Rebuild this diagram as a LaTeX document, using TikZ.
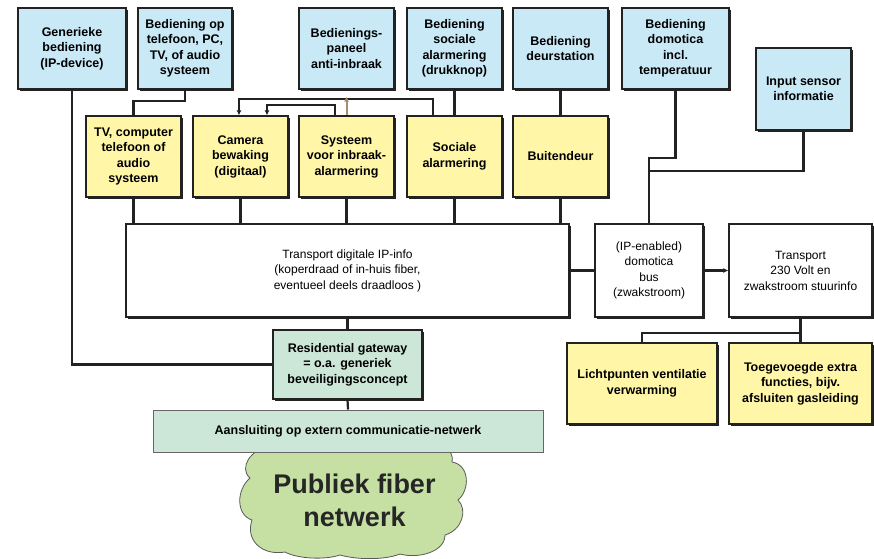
\documentclass[tikz,border=0pt]{standalone}
\usepackage{fontspec}
\setmainfont{Liberation Sans}
\usetikzlibrary{positioning, arrows.meta, shadows}

\definecolor{ctrlblue}{HTML}{C9E9F7}
\definecolor{devyellow}{HTML}{FFF6A8}
\definecolor{gwgreen}{HTML}{CCE7D7}
\definecolor{cloudgreen}{HTML}{C6E0A4}
\definecolor{wire}{HTML}{222222}
\definecolor{tanwire}{HTML}{A88E6C}

\begin{document}
\begin{tikzpicture}[
    x=1pt, y=-1pt,
    font=\fontsize{12.5}{15.5}\selectfont\bfseries,
    box/.style={rectangle, draw=wire, line width=1.3pt, fill=#1, align=center,
        inner sep=3pt,
        drop shadow={shadow xshift=1.6pt, shadow yshift=-1.6pt, fill=wire, opacity=1}},
    plain/.style={rectangle, draw=wire, line width=1.3pt, fill=white, align=center,
        inner sep=3pt, font=\fontsize{12}{15.5}\selectfont\mdseries,
        drop shadow={shadow xshift=1.6pt, shadow yshift=-1.6pt, fill=wire, opacity=1}},
    unit/.style={minimum width=95, minimum height=81},
    link/.style={draw=wire, line width=2.2pt},
    tip/.style={-{Latex[length=5pt, width=5pt]}},
]
\useasboundingbox (0,0) rectangle (874,558);

% ---- Control units (top row) ----
\node[box=ctrlblue, minimum width=108, minimum height=81] (gen) at (72,48.5)
    {Generieke\\bediening\\(IP-device)};
\node[box=ctrlblue, minimum width=94, minimum height=81] (tel) at (185,48.5)
    {Bediening op\\telefoon, PC,\\TV, of audio\\systeem};
\node[box=ctrlblue, unit] (pan) at (346.5,48.5) {Bedienings-\\paneel\\anti-inbraak};
\node[box=ctrlblue, unit] (soc) at (454.5,48.5) {Bediening\\sociale\\alarmering\\(drukknop)};
\node[box=ctrlblue, unit] (deur) at (560.5,48.5) {Bediening\\deurstation};
\node[box=ctrlblue, minimum width=107, minimum height=81] (dom) at (675.5,48.5)
    {Bediening\\domotica\\incl.\\temperatuur};
\node[box=ctrlblue, minimum width=95, minimum height=82] (sens) at (803.5,89)
    {Input sensor\\informatie};

% ---- Devices (second row) ----
\node[box=devyellow, unit] (tv) at (133.5,156.5) {TV, computer\\telefoon of\\audio\\systeem};
\node[box=devyellow, unit] (cam) at (240.5,156.5) {Camera\\bewaking\\(digitaal)};
\node[box=devyellow, unit] (sys) at (346.5,156.5) {Systeem\\voor inbraak-\\alarmering};
\node[box=devyellow, unit] (alarm) at (454.5,156.5) {Sociale\\alarmering};
\node[box=devyellow, unit] (buit) at (560.5,156.5) {Buitendeur};

% ---- Transport layer ----
\node[plain, minimum width=443, minimum height=93] (ip) at (347.5,270.5)
    {Transport digitale IP-info\\(koperdraad of in-huis fiber,\\eventueel deels draadloos )};
\node[plain, minimum width=108, minimum height=93] (bus) at (649,270.5)
    {(IP-enabled)\\domotica\\bus\\(zwakstroom)};
\node[plain, minimum width=143, minimum height=93] (net) at (800.5,270.5)
    {Transport\\230 Volt en\\zwakstroom stuurinfo};

% ---- Domotica outputs ----
\node[box=devyellow, minimum width=150, minimum height=81] (licht) at (642,383.5)
    {Lichtpunten ventilatie\\verwarming};
\node[box=devyellow, minimum width=143, minimum height=81] (extra) at (800.5,383.5)
    {Toegevoegde extra\\functies, bijv.\\afsluiten gasleiding};

% ---- Gateway and outside world ----
\node[box=gwgreen, minimum width=149, minimum height=69] (gw) at (347.5,364.5)
    {Residential gateway\\= o.a. generiek\\beveiligingsconcept};
% cloud outline, drawn by hand
\draw[draw=black!65, line width=0.8pt, fill=cloudgreen]
    (268,448) .. controls (252,448) and (238,468) .. (250,478)
    .. controls (236,490) and (236,515) .. (252,520)
    .. controls (245,540) and (262,556) .. (285,552)
    .. controls (298,559) and (325,560) .. (340,555)
    .. controls (358,560) and (385,560) .. (400,554)
    .. controls (418,559) and (445,552) .. (445,535)
    .. controls (462,530) and (468,510) .. (458,500)
    .. controls (470,490) and (470,465) .. (452,462)
    .. controls (455,450) and (440,442) .. (428,446) -- cycle;
\node[align=center, font=\fontsize{27}{33}\selectfont\bfseries, text=black!85]
    (fiber) at (354.5,500) {Publiek fiber\\netwerk};
\node[rectangle, draw=black!60, line width=1pt, fill=gwgreen, minimum width=390,
    minimum height=42] (ext) at (348,431) {Aansluiting op extern communicatie-netwerk};

% ---- Connectors ----
\draw[link] (gen.south) |- (gw.west);
\draw[link] (tel.south) -- ++(0,11) -| (tv.north);
\draw[link] (soc.south) -- (alarm.north);
\draw[link] (deur.south) -- (buit.north);
\draw[link, tip] ([xshift=-21.5pt]alarm.north) -- ++(0,-16) -| ([xshift=-1.5pt]cam.north);
\draw[link, tip] ([xshift=-11.5pt]sys.north) -- ++(0,-10) -| ([xshift=26.5pt]cam.north);
\draw[draw=tanwire, line width=2pt, tip, shorten >=7pt] (sys.north) -- (pan.south);
\foreach \dev in {tv, cam, sys, alarm, buit}
    \draw[link] (\dev.south) -- (\dev.south |- ip.north);
\draw[link] (ip.east) -- (bus.west);
\draw[link, tip] (bus.east) -- (net.west);
\draw[link] (dom.south) -- ++(0,68) -| (bus.north);
\draw[link] (sens.south) -- ++(0,40) -| (bus.north);
\draw[link] (net.south) -- (extra.north);
\draw[link] (net.south) -- ++(0,15) -| (licht.north);
\draw[link] (ip.south) -- (gw.north);
\draw[link] (gw.south) -- (ext.north);

\end{tikzpicture}
\end{document}
